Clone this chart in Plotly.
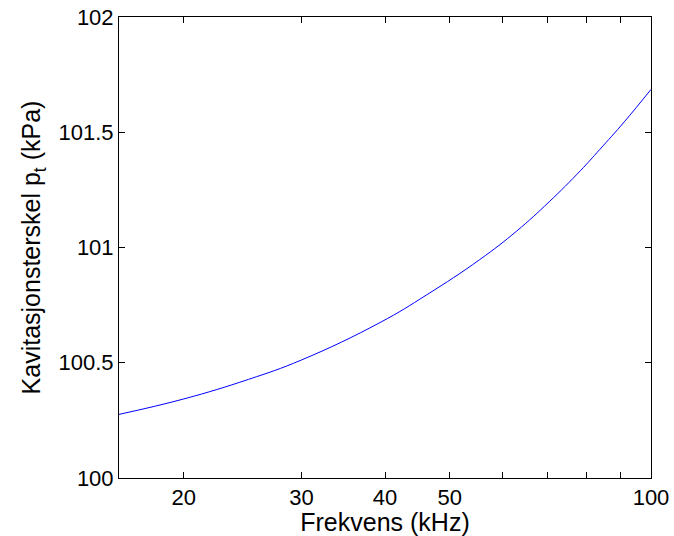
import plotly.graph_objects as go

# Data
freq_khz = [16.0, 20.0, 25.0, 30.0, 39.3, 46.2, 55.4, 63.0, 70.4, 78.4, 83.8, 91.2, 100.0]
threshold_kpa = [100.276, 100.343, 100.428, 100.512, 100.674, 100.795, 100.947, 101.072, 101.198, 101.333, 101.425, 101.545, 101.686]

x_tickvals = [20, 30, 40, 50, 60, 70, 80, 90, 100]
x_ticktext = ["20", "30", "40", "50", "", "", "", "", "100"]
y_tickvals = [100, 100.5, 101, 101.5, 102]
y_ticktext = ["100", "100.5", "101", "101.5", "102"]

fig = go.Figure()
fig.add_trace(go.Scatter(
    x=freq_khz, y=threshold_kpa, mode="lines",
    line=dict(color="#0000ff", width=1, shape="spline", smoothing=1.2),
    showlegend=False,
))

font_family = "Liberation Sans, Arial, sans-serif"
fig.update_layout(
    width=674, height=536,
    margin=dict(l=119, r=23, t=17, b=58),
    paper_bgcolor="white", plot_bgcolor="white",
    font=dict(family=font_family, size=22, color="black"),
)
fig.update_xaxes(
    type="log", range=[1.2041, 2.0], automargin=False,
    tickvals=x_tickvals, ticktext=x_ticktext,
    ticks="inside", ticklen=6, tickwidth=1, tickcolor="black",
    showline=True, linecolor="black", linewidth=1, mirror="ticks",
    showgrid=False, zeroline=False,
    tickfont=dict(size=22),
    title=dict(text="Frekvens (kHz)", font=dict(size=25), standoff=0),
)
fig.update_yaxes(
    range=[100, 102], automargin=False,
    tickvals=y_tickvals, ticktext=y_ticktext,
    ticks="inside", ticklen=6, tickwidth=1, tickcolor="black",
    showline=True, linecolor="black", linewidth=1, mirror="ticks",
    showgrid=False, zeroline=False,
    tickfont=dict(size=22),
    title=dict(text="Kavitasjonsterskel p<sub>t</sub> (kPa)", font=dict(size=25), standoff=10),
)

fig.write_html("out.html")
